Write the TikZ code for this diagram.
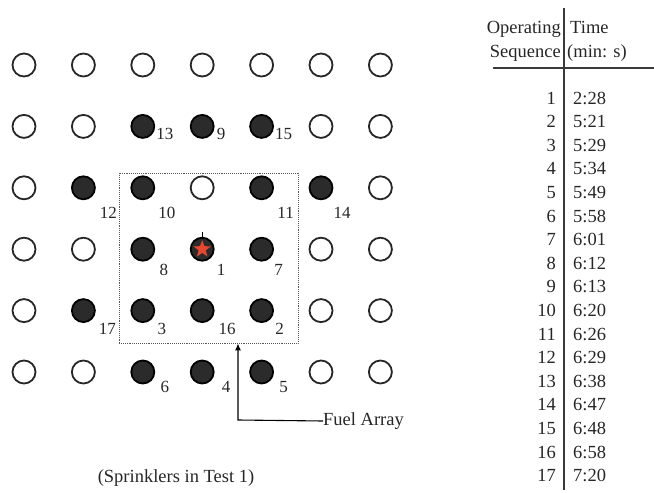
\documentclass[tikz,border=0pt]{standalone}
\usepackage{fontspec}
\setmainfont{Liberation Serif}
\usetikzlibrary{arrows.meta,shapes.geometric}

\definecolor{sprkfill}{HTML}{2B2B2B}
\definecolor{starred}{HTML}{E8472F}
\definecolor{rule}{HTML}{3A3A3A}

\tikzset{
  sprk/.style={circle, line width=1.8pt, minimum size=23pt, inner sep=0pt},
  open/.style={sprk, draw=black!85, fill=white},
  fired/.style={sprk, draw=black, fill=sprkfill},
  lbl/.style={font=\fontsize{17}{19}\selectfont, text=black!85, inner sep=0pt},
  txt/.style={font=\fontsize{18.5}{22}\selectfont, text=black!85, inner sep=0pt},
}

\begin{document}
\begin{tikzpicture}[x=1pt, y=-1pt, >={Latex[length=7pt,width=6pt]}]
    \useasboundingbox (0,0) rectangle (654,493);
    % sprinklers that stayed closed
    \foreach \c/\r in {1/1,2/1,3/1,4/1,5/1,6/1,7/1, 1/2,2/2,6/2,7/2, 1/3,4/3,7/3,
                       1/4,2/4,6/4,7/4, 1/5,6/5,7/5, 1/6,2/6,6/6,7/6} {
        \node [open] (s\c\r) at ({24+59.4*(\c-1)}, {65+61.4*(\r-1)}) {};
    }
    % sprinklers that operated, with their order
    \foreach \c/\r/\n/\dx/\dy in {3/2/13/22/8, 4/2/9/19/8, 5/2/15/22/8,
                                  2/3/12/25/25, 3/3/10/24/25, 5/3/11/24/25, 6/3/14/21/25,
                                  3/4/8/21/21, 4/4/1/19/21, 5/4/7/17/21,
                                  2/5/17/24/18, 3/5/3/19/18, 4/5/16/25/18, 5/5/2/18/18,
                                  3/6/6/22/15, 4/6/4/24/15, 5/6/5/22/15} {
        \node [fired] (s\c\r) at ({24+59.4*(\c-1)}, {65+61.4*(\r-1)}) {};
        \node [lbl] (n\n) at ([shift={(\dx,\dy)}]s\c\r) {\n};
    }
    % ignition point
    \draw [line width=1.2pt] (s44.north) -- ++(0,-5);
    \node [star, star points=5, star point ratio=2.4, fill=starred, minimum size=18pt, inner sep=0pt] (ign) at (s44) {};

    % fuel array
    \node [draw=gray!70!black, densely dotted, line width=0.9pt, minimum width=179pt, minimum height=170pt, inner sep=0pt] (fuel) at (208.5,258) {};
    \node [txt, anchor=west] (fuellbl) at (323,421) {Fuel Array};
    \coordinate (bend) at (238,420);
    \draw [->, line width=1.1pt] (fuellbl.west) -- (bend) -- (bend |- fuel.south);

    \node [txt] (caption) at (176,478) {(Sprinklers in Test 1)};

    % table of operating times
    \draw [rule, line width=1.1pt] (564,8) -- (564,490);
    \draw [rule, line width=1.1pt] (493,68) -- (654,68);
    \node [txt, anchor=base east] (hop) at (561,33) {Operating};
    \node [txt, anchor=base east] (hseq) at (561,57) {Sequence};
    \node [txt, anchor=base west] (htime) at (570,33) {Time};
    \node [txt, anchor=base west] (hunit) at (567,57) {(min: s)};
    \foreach \i/\t in {1/2:28,2/5:21,3/5:29,4/5:34,5/5:49,6/5:58,7/6:01,8/6:12,9/6:13,
                       10/6:20,11/6:26,12/6:29,13/6:38,14/6:47,15/6:48,16/6:58,17/7:20} {
        \node [txt, anchor=base east] (q\i) at (556,{104+23.6*(\i-1)}) {\i};
        \node [txt, anchor=base west] (t\i) at (573,{104+23.6*(\i-1)}) {\t};
    }
\end{tikzpicture}
\end{document}
